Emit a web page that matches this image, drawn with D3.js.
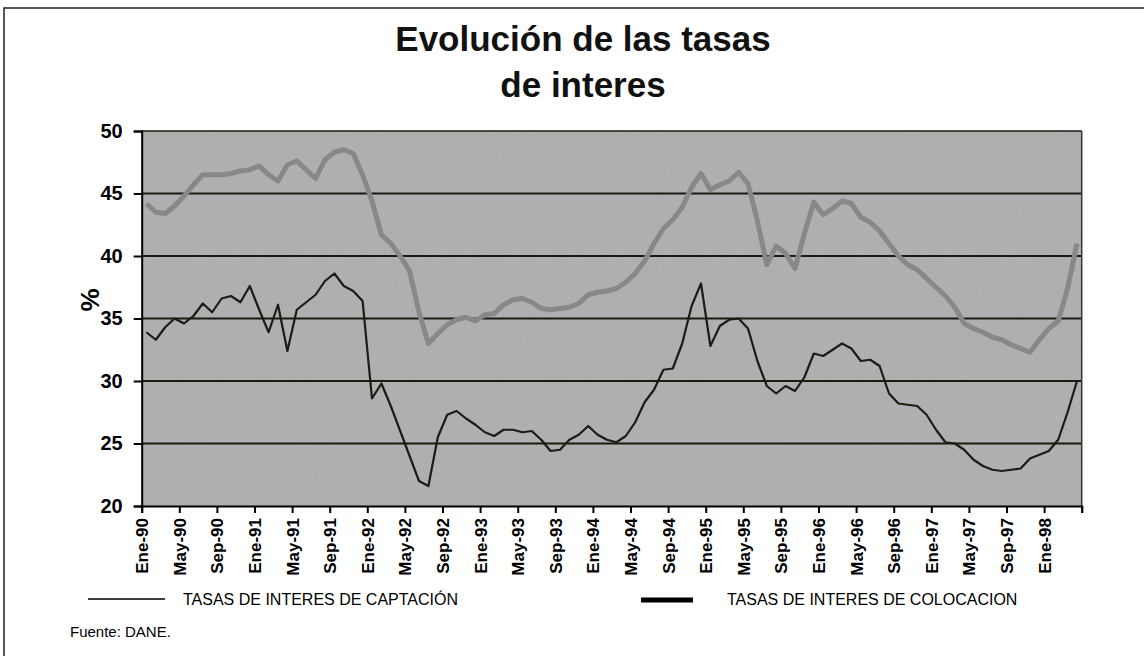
<!DOCTYPE html>
<html>
<head>
<meta charset="utf-8">
<script src="https://cdn.jsdelivr.net/npm/d3@7"></script>
<style>
  body { margin: 0; background: #fff; }
  svg { display: block; font-family: "Liberation Sans", Arial, sans-serif; }
</style>
</head>
<body>
<svg width="1144" height="656"></svg>
<script>
// tick labels on the category axis (one every 4 months)
const tickLabels = ["Ene-90","May-90","Sep-90","Ene-91","May-91","Sep-91","Ene-92","May-92","Sep-92",
  "Ene-93","May-93","Sep-93","Ene-94","May-94","Sep-94","Ene-95","May-95","Sep-95",
  "Ene-96","May-96","Sep-96","Ene-97","May-97","Sep-97","Ene-98"];

const yTicks = [20, 25, 30, 35, 40, 45, 50];

// monthly values, Ene-90 .. Abr-98
const captacion = [
  33.9, 33.3, 34.3, 35.0, 34.6, 35.2, 36.2, 35.5, 36.6, 36.8,
  36.3, 37.6, 35.7, 33.9, 36.1, 32.4, 35.7, 36.3, 36.9, 38.0,
  38.6, 37.6, 37.2, 36.4, 28.6, 29.8, 28.0, 26.0, 24.0, 22.0,
  21.6, 25.5, 27.3, 27.6, 27.0, 26.5, 25.9, 25.6, 26.1, 26.1,
  25.9, 26.0, 25.3, 24.4, 24.5, 25.3, 25.7, 26.4, 25.7, 25.3,
  25.1, 25.6, 26.7, 28.3, 29.3, 30.9, 31.0, 33.0, 36.0, 37.8,
  32.8, 34.4, 34.9, 35.0, 34.2, 31.6, 29.6, 29.0, 29.6, 29.2,
  30.3, 32.2, 32.0, 32.5, 33.0, 32.6, 31.6, 31.7, 31.2, 29.0,
  28.2, 28.1, 28.0, 27.3, 26.1, 25.1, 25.0, 24.5, 23.7, 23.2,
  22.9, 22.8, 22.9, 23.0, 23.8, 24.1, 24.4, 25.3, 27.5, 30.0
];

const colocacion = [
  44.2, 43.5, 43.4, 44.0, 44.8, 45.7, 46.5, 46.5, 46.5, 46.6,
  46.8, 46.9, 47.2, 46.5, 46.0, 47.3, 47.6, 46.9, 46.2, 47.7,
  48.3, 48.5, 48.2, 46.5, 44.4, 41.7, 41.0, 40.0, 38.8, 35.5,
  33.0, 33.8, 34.5, 34.9, 35.1, 34.8, 35.3, 35.4, 36.1, 36.5,
  36.6, 36.3, 35.8, 35.7, 35.8, 35.9, 36.2, 36.9, 37.1, 37.2,
  37.4, 37.9, 38.6, 39.6, 41.0, 42.2, 42.9, 43.9, 45.5, 46.6,
  45.3, 45.7, 46.0, 46.7, 45.8, 42.8, 39.3, 40.8, 40.2, 39.0,
  41.8, 44.3, 43.3, 43.8, 44.4, 44.2, 43.1, 42.7, 42.0, 41.0,
  40.0, 39.3, 38.9, 38.2, 37.5, 36.8, 35.9, 34.6, 34.2, 33.9,
  33.5, 33.3, 32.9, 32.6, 32.3, 33.3, 34.2, 34.8, 37.4, 41.0
];

const svg = d3.select("svg");
const plot = {left: 141.7, right: 1081.7, top: 131, bottom: 506};

const x = d3.scaleLinear().domain([0, 100]).range([plot.left, plot.right]);
const y = d3.scaleLinear().domain([20, 50]).range([plot.bottom, plot.top]);

// outer frame (photocopied page border)
svg.append("path")
  .attr("d", `M4,656 V8 H1144`)
  .attr("fill", "none")
  .attr("stroke", "#222")
  .attr("stroke-width", 1.5);

// title
const title = svg.append("text")
  .attr("text-anchor", "middle")
  .attr("font-weight", "bold")
  .attr("font-size", 35)
  .attr("fill", "#111");
title.append("tspan").attr("x", 583).attr("y", 51).text("Evolución de las tasas");
title.append("tspan").attr("x", 583).attr("y", 97).text("de interes");

// grainy gray plot background
const defs = svg.append("defs");
const f = defs.append("filter").attr("id", "grain").attr("x", 0).attr("y", 0).attr("width", 1).attr("height", 1);
f.append("feTurbulence").attr("type", "fractalNoise").attr("baseFrequency", 0.9).attr("numOctaves", 2).attr("seed", 3).attr("result", "n");
f.append("feColorMatrix").attr("in", "n").attr("type", "matrix")
  .attr("values", "0 0 0 0 0.4  0 0 0 0 0.4  0 0 0 0 0.4  1.2 0 0 0 -0.45");
f.append("feComposite").attr("in2", "SourceGraphic").attr("operator", "over");

svg.append("rect")
  .attr("x", plot.left).attr("y", plot.top)
  .attr("width", plot.right - plot.left).attr("height", plot.bottom - plot.top)
  .attr("fill", "#b0b0b0")
  .attr("filter", "url(#grain)");

// horizontal grid lines
svg.append("g")
  .selectAll("line")
  .data(yTicks.filter(d => d > 20))
  .join("line")
  .attr("x1", plot.left).attr("x2", plot.right)
  .attr("y1", d => y(d)).attr("y2", d => y(d))
  .attr("stroke", "#1a1a10")
  .attr("stroke-width", d => d === 50 ? 1.5 : 2);

// right border
svg.append("line")
  .attr("x1", plot.right).attr("x2", plot.right).attr("y1", plot.top).attr("y2", plot.bottom)
  .attr("stroke", "#333").attr("stroke-width", 1.5);

// axes
const yAxis = svg.append("g")
  .attr("transform", `translate(${plot.left},0)`)
  .call(d3.axisLeft(y).tickValues(yTicks).tickSize(8).tickPadding(11));
yAxis.selectAll("text").attr("font-size", 20).attr("font-weight", "bold").attr("fill", "#000");

const xAxis = svg.append("g")
  .attr("transform", `translate(0,${plot.bottom})`)
  .call(d3.axisBottom(x).tickValues(d3.range(0, 101, 4)).tickSize(7)
    .tickFormat(i => tickLabels[i / 4] || ""));
xAxis.selectAll("text")
  .attr("font-size", 17).attr("font-weight", "bold").attr("fill", "#000")
  .attr("text-anchor", "end")
  .attr("transform", "rotate(-90)")
  .attr("x", -12).attr("y", 0).attr("dy", "0.35em");

svg.selectAll(".domain, .tick line").attr("stroke", "#000").attr("stroke-width", 2);

// y label
svg.append("text")
  .attr("transform", "translate(90,300) rotate(-90)")
  .attr("text-anchor", "middle")
  .attr("dy", "0.35em")
  .attr("font-size", 26).attr("font-weight", "bold")
  .text("%");

// series
const line = d3.line().x((d, i) => x(i + 0.5)).y(d => y(d));

svg.append("path")
  .datum(colocacion)
  .attr("d", line)
  .attr("fill", "none")
  .attr("stroke", "#888")
  .attr("stroke-width", 5)
  .attr("stroke-linejoin", "round");

svg.append("path")
  .datum(captacion)
  .attr("d", line)
  .attr("fill", "none")
  .attr("stroke", "#1c1c14")
  .attr("stroke-width", 2.2)
  .attr("stroke-linejoin", "round");

// legend
const legend = svg.append("g").attr("font-size", 16).attr("fill", "#000");
legend.append("line").attr("x1", 88).attr("x2", 165).attr("y1", 599).attr("y2", 599)
  .attr("stroke", "#000").attr("stroke-width", 1.5);
legend.append("text").attr("x", 183).attr("y", 605).text("TASAS DE INTERES DE CAPTACIÓN");
legend.append("line").attr("x1", 641).attr("x2", 693).attr("y1", 600).attr("y2", 600)
  .attr("stroke", "#000").attr("stroke-width", 5);
legend.append("text").attr("x", 727).attr("y", 605).text("TASAS DE INTERES DE COLOCACION");

svg.append("text")
  .attr("x", 70).attr("y", 637)
  .attr("font-size", 15)
  .text("Fuente: DANE.");
</script>
</body>
</html>
